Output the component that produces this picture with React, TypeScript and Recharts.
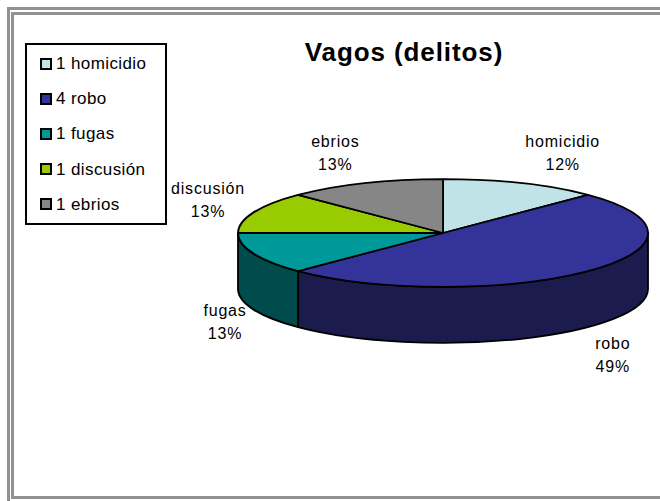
import React from "react";
import { Legend, Pie, PieChart } from "recharts";

const LEGEND_LABELS = ["1 homicidio", "4 robo", "1 fugas", "1 discusión", "1 ebrios"];
const SLICE_NAMES = ["homicidio", "robo", "fugas", "discusión", "ebrios"];
const COUNTS = [1, 4, 1, 1, 1];
const PCT_LABELS = ["12%", "49%", "13%", "13%", "13%"];

const TOP_COLORS = ["#bfe3e6", "#333399", "#009999", "#99cc00", "#868686"];
const SIDE_COLORS = ["#607173", "#1c1b4d", "#004b4b", "#4d6600", "#434343"];

// small hand nudges so the labels sit where Excel put them
const LABEL_NUDGE = [
  [24, 8],
  [-7, -1],
  [13, -3],
  [-4, 3],
  [-12, 8],
];

const TILT = 0.263;
const DEPTH = 56;
const FONT = "'Liberation Sans', Arial, sans-serif";

const data = SLICE_NAMES.map((name, i) => ({
  name,
  value: COUNTS[i],
  legend: LEGEND_LABELS[i],
  pct: PCT_LABELS[i],
  index: i,
}));

function EllipseSlice(props: any) {
  const { cx, cy, outerRadius, startAngle, endAngle, payload } = props;
  const i = payload?.index ?? props.index ?? 0;
  const rx = outerRadius;
  const ry = outerRadius * TILT;
  const pt = (a: number, dy = 0) => {
    const r = (a * Math.PI) / 180;
    return [cx + rx * Math.cos(r), cy - ry * Math.sin(r) + dy];
  };
  const [x1, y1] = pt(startAngle);
  const [x2, y2] = pt(endAngle);
  const large = Math.abs(startAngle - endAngle) > 180 ? 1 : 0;
  const top = `M${cx},${cy} L${x1},${y1} A${rx},${ry} 0 ${large} 1 ${x2},${y2} Z`;

  // front wall: only the part of the rim facing the viewer
  const s = Math.min(startAngle, 0);
  const e = Math.max(endAngle, -180);
  let side = null;
  if (s > e) {
    const [sx, sy] = pt(s);
    const [ex, ey] = pt(e);
    const [ex2, ey2] = pt(e, DEPTH);
    const [sx2, sy2] = pt(s, DEPTH);
    side = (
      <path
        d={`M${sx},${sy} A${rx},${ry} 0 0 1 ${ex},${ey} L${ex2},${ey2} A${rx},${ry} 0 0 0 ${sx2},${sy2} Z`}
        fill={SIDE_COLORS[i]}
        stroke="#000"
        strokeWidth={1.8}
        strokeLinejoin="round"
      />
    );
  }
  return (
    <g>
      {side}
      <path d={top} fill={TOP_COLORS[i]} stroke="#000" strokeWidth={1.8} strokeLinejoin="round" />
    </g>
  );
}

function SliceLabel(props: any) {
  const { cx, cy, midAngle, index } = props;
  const r = (midAngle * Math.PI) / 180;
  const sin = Math.sin(r);
  const x = cx + 250 * Math.cos(r) + LABEL_NUDGE[index][0];
  const y = cy - 95 * sin + (sin < 0 ? DEPTH : 0) + LABEL_NUDGE[index][1];
  return (
    <text
      x={x}
      y={y}
      textAnchor="middle"
      fill="#000"
      style={{ fontFamily: FONT, fontSize: 16, letterSpacing: 0.8 }}
    >
      <tspan x={x} dy={-6}>{SLICE_NAMES[index]}</tspan>
      <tspan x={x} dy={23}>{PCT_LABELS[index]}</tspan>
    </text>
  );
}

function LegendBox() {
  return (
    <div
      style={{
        boxSizing: "border-box",
        width: 142,
        height: 182,
        border: "2px solid #000",
        background: "#fff",
        paddingTop: 1,
        fontFamily: FONT,
        fontSize: 17,
        letterSpacing: 0.4,
      }}
    >
      {LEGEND_LABELS.map((label, i) => (
        <div key={label} style={{ display: "flex", alignItems: "center", height: 35.2, marginLeft: 13 }}>
          <span
            style={{
              boxSizing: "border-box",
              width: 12,
              height: 12,
              border: "2px solid #000",
              background: TOP_COLORS[i],
              marginRight: 4,
            }}
          />
          <span style={{ lineHeight: "17px" }}>{label}</span>
        </div>
      ))}
    </div>
  );
}

export default function App() {
  return (
    <div
      style={{
        position: "fixed",
        left: 0,
        top: 0,
        width: 660,
        height: 501,
        overflow: "hidden",
        background: "#fff",
      }}
    >
      <div
        style={{
          position: "absolute",
          left: 7,
          top: 7,
          width: 800,
          height: 800,
          border: "3px solid #929292",
        }}
      />
      <div
        style={{
          position: "absolute",
          left: 11,
          top: 12,
          width: 800,
          height: 481,
          border: "3px solid #929292",
        }}
      />
      <div
        style={{
          position: "absolute",
          left: 404,
          top: 37,
          transform: "translateX(-50%)",
          whiteSpace: "nowrap",
          fontFamily: FONT,
          fontWeight: "bold",
          fontSize: 26,
          letterSpacing: 0.9,
          lineHeight: "30px",
        }}
      >
        Vagos (delitos)
      </div>
      <div style={{ position: "absolute", left: 0, top: 0 }}>
        <PieChart width={660} height={501} margin={{ top: 0, right: 0, bottom: 0, left: 0 }}>
          <Pie
            data={data}
            dataKey="value"
            nameKey="name"
            cx={443}
            cy={233}
            outerRadius={205}
            startAngle={90}
            endAngle={-270}
            shape={EllipseSlice}
            label={SliceLabel}
            labelLine={false}
            isAnimationActive={false}
          />
          <Legend
            content={() => <LegendBox />}
            wrapperStyle={{ position: "absolute", left: 25, top: 43, width: 142, height: 182 }}
          />
        </PieChart>
      </div>
    </div>
  );
}
